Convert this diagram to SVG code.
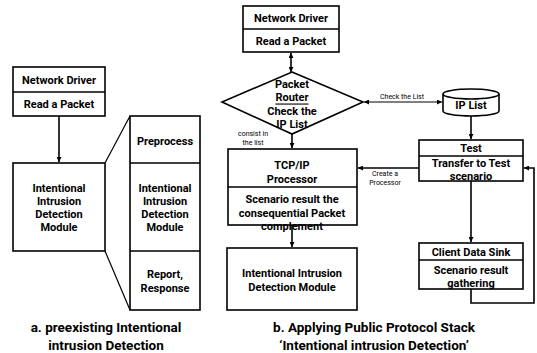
<svg xmlns="http://www.w3.org/2000/svg" width="537" height="353" viewBox="0 0 537 353">
  <style>
    .box { fill: #fff; stroke: #000; stroke-width: 1.6; }
    .ln { fill: none; stroke: #000; stroke-width: 1.6; }
    .thin { fill: none; stroke: #000; stroke-width: 1.2; }
    .t { font-family: Roboto, "Noto Sans", sans-serif; font-weight: bold; font-size: 11px; text-anchor: middle; dominant-baseline: central; fill: #000; }
    .s { font-family: Roboto, "Noto Sans", sans-serif; font-size: 7px; text-anchor: middle; dominant-baseline: central; fill: #000; }
    .cap { font-family: Roboto, "Noto Sans", sans-serif; font-weight: bold; font-size: 13.5px; text-anchor: middle; dominant-baseline: central; fill: #000; }
  </style>
  <defs>
    <marker id="ah" viewBox="0 0 10 10" refX="10" refY="5" markerWidth="5" markerHeight="5" orient="auto-start-reverse" markerUnits="userSpaceOnUse">
      <path d="M0,0 L10,5 L0,10 z" fill="#000"/>
    </marker>
  </defs>
  <rect width="537" height="353" fill="#fff"/>

  <!-- Connectors and their labels -->
  <g id="connectors">
    <line class="ln" x1="59" y1="116" x2="59" y2="162" marker-end="url(#ah)"/>
    <line class="thin" x1="105" y1="163" x2="130" y2="116"/>
    <line class="thin" x1="105" y1="251" x2="130" y2="310"/>
    <line class="ln" x1="291" y1="53" x2="291" y2="72" marker-start="url(#ah)" marker-end="url(#ah)"/>
    <line class="ln" x1="292" y1="134" x2="292" y2="148" marker-end="url(#ah)"/>
    <line class="thin" x1="364" y1="102" x2="442" y2="102" marker-start="url(#ah)" marker-end="url(#ah)"/>
    <line class="ln" x1="471" y1="115" x2="471" y2="139" marker-end="url(#ah)"/>
    <line class="ln" x1="419" y1="168" x2="358" y2="168" marker-end="url(#ah)"/>
    <line class="ln" x1="292" y1="225" x2="292" y2="247" marker-end="url(#ah)"/>
    <line class="ln" x1="471" y1="181" x2="471" y2="242" marker-end="url(#ah)"/>
    <polyline class="ln" points="471,289 471,303 534,303 534,168 524,168" marker-end="url(#ah)"/>
    <text class="s" x="253" y="133.5">consist in</text>
    <text class="s" x="253" y="142.5">the list</text>
    <text class="s" x="402" y="97">Check the List</text>
    <text class="s" x="385" y="174">Create a</text>
    <text class="s" x="385" y="183">Processor</text>
  </g>

  <!-- a. preexisting detection -->
  <g id="driver-a">
    <rect class="box" x="13" y="67" width="92" height="49"/>
    <line class="ln" x1="13" y1="92" x2="105" y2="92"/>
    <text class="t" x="59" y="80">Network Driver</text>
    <text class="t" x="59" y="104">Read a Packet</text>
  </g>
  <g id="iidm-a">
    <rect class="box" x="13" y="163" width="92" height="88"/>
    <text class="t" x="59" y="188">Intentional</text>
    <text class="t" x="59" y="201">Intrusion</text>
    <text class="t" x="59" y="214">Detection</text>
    <text class="t" x="59" y="227">Module</text>
  </g>
  <g id="stages-a">
    <rect class="box" x="130" y="116" width="70" height="194"/>
    <line class="ln" x1="130" y1="163" x2="200" y2="163"/>
    <line class="ln" x1="130" y1="251" x2="200" y2="251"/>
    <text class="t" x="165" y="141">Preprocess</text>
    <text class="t" x="165" y="188">Intentional</text>
    <text class="t" x="165" y="201">Intrusion</text>
    <text class="t" x="165" y="214">Detection</text>
    <text class="t" x="165" y="227">Module</text>
    <text class="t" x="165" y="274">Report,</text>
    <text class="t" x="165" y="288">Response</text>
  </g>

  <!-- b. protocol stack detection -->
  <g id="driver-b">
    <rect class="box" x="243" y="6" width="96" height="46"/>
    <line class="ln" x1="243" y1="29" x2="339" y2="29"/>
    <text class="t" x="291" y="18">Network Driver</text>
    <text class="t" x="291" y="41">Read a Packet</text>
  </g>
  <g id="router">
    <polygon class="box" points="292,72 363,102 292,134 222,102"/>
    <text class="t" x="292" y="84">Packet</text>
    <text class="t" x="292" y="97" text-decoration="underline">Router</text>
    <text class="t" x="292" y="111">Check the</text>
    <text class="t" x="292" y="124">IP List</text>
  </g>
  <g id="ip-list">
    <path class="box" d="M443,94 A28,5 0 0 1 499,94 L499,111 A28,5 0 0 1 443,111 Z"/>
    <path class="ln" d="M443,94 A28,5 0 0 0 499,94"/>
    <text class="t" x="471" y="105">IP List</text>
  </g>
  <g id="tcp-ip">
    <rect class="box" x="228" y="149" width="129" height="76"/>
    <line class="ln" x1="228" y1="187" x2="357" y2="187"/>
    <text class="t" x="292" y="165">TCP/IP</text>
    <text class="t" x="292" y="179">Processor</text>
    <text class="t" x="292" y="199">Scenario result the</text>
    <text class="t" x="292" y="213">consequential Packet</text>
    <text class="t" x="292" y="226">complement</text>
  </g>
  <g id="iidm-b">
    <rect class="box" x="227" y="248" width="130" height="62"/>
    <text class="t" x="292" y="273">Intentional Intrusion</text>
    <text class="t" x="292" y="287">Detection Module</text>
  </g>
  <g id="test">
    <rect class="box" x="419" y="140" width="104" height="41"/>
    <line class="ln" x1="419" y1="156" x2="523" y2="156"/>
    <text class="t" x="471" y="148">Test</text>
    <text class="t" x="471" y="163">Transfer to Test</text>
    <text class="t" x="471" y="176">scenario</text>
  </g>
  <g id="sink">
    <rect class="box" x="419" y="243" width="104" height="46"/>
    <line class="ln" x1="419" y1="260" x2="523" y2="260"/>
    <text class="t" x="471" y="252">Client Data Sink</text>
    <text class="t" x="471" y="270">Scenario result</text>
    <text class="t" x="471" y="283">gathering</text>
  </g>

  <!-- Captions -->
  <g id="captions">
    <text class="cap" x="106" y="327">a. preexisting Intentional</text>
    <text class="cap" x="106" y="345">intrusion Detection</text>
    <text class="cap" x="374" y="327">b. Applying Public Protocol Stack</text>
    <text class="cap" x="374" y="345">‘Intentional intrusion Detection’</text>
  </g>
</svg>
